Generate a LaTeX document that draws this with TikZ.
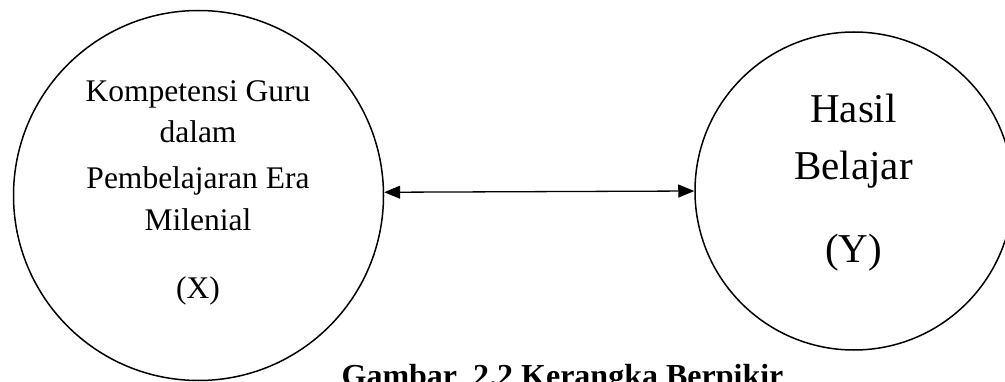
\documentclass[tikz,border=0pt]{standalone}
\usepackage{fontspec}
\setmainfont{Liberation Serif}
\usetikzlibrary{arrows.meta}
\tikzset{
  var/.style={circle, draw=black, line width=1.5pt, inner sep=0pt},
  ltxt/.style={anchor=base, inner sep=0pt, font=\fontsize{31.5}{42}\selectfont},
  rtxt/.style={anchor=base, inner sep=0pt, font=\fontsize{41}{57}\selectfont},
  link/.style={line width=1.3pt, {Triangle[length=16pt,width=13pt]}-{Triangle[length=16pt,width=13pt]}}
}
\begin{document}
\begin{tikzpicture}[x=1pt,y=1pt]
\useasboundingbox (0,0) rectangle (1005,381);
\node[var, minimum size=370pt] (L) at (198.5,185.5) {};
\node[var, minimum size=318pt] (R) at (854,190) {};
\node[ltxt] (l1) at (198,279) {Kompetensi Guru};
\node[ltxt] (l2) at (198,238) {dalam};
\node[ltxt] (l3) at (198,193) {Pembelajaran Era};
\node[ltxt] (l4) at (198,151) {Milenial};
\node[ltxt] (l5) at (198,83) {(X)};
\node[rtxt] (r1) at (853.5,258) {Hasil};
\node[rtxt] (r2) at (853.5,201) {Belajar};
\node[rtxt] (r3) at (853.5,119) {(Y)};
\draw[link] (L.1.5) -- (R.180);
\node[anchor=base, inner sep=0pt, font=\fontsize{32}{38}\selectfont\bfseries] (cap) at (562.5,-5) {Gambar\ \ 2.2 Kerangka Berpikir};
\end{tikzpicture}
\end{document}
